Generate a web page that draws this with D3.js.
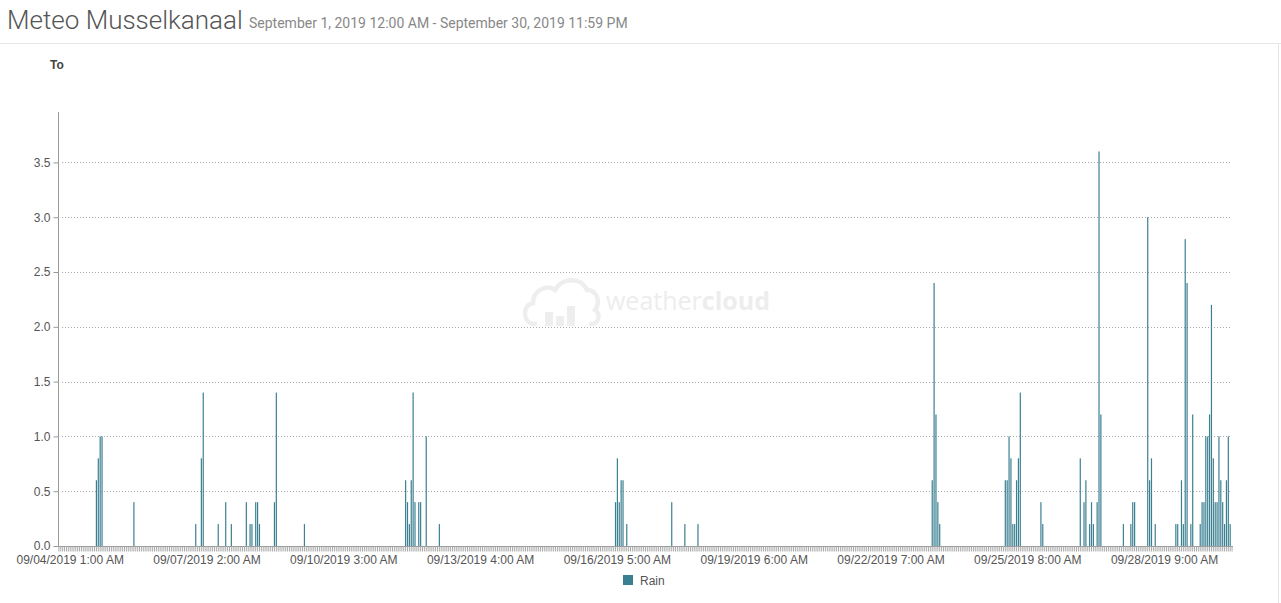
<!DOCTYPE html>
<html>
<head>
<meta charset="utf-8">
<script src="https://cdn.jsdelivr.net/npm/d3@7/dist/d3.min.js"></script>
<style>
  html, body { margin: 0; padding: 0; background: #fff; }
  svg { display: block; }
</style>
</head>
<body>
<svg id="chart" width="1281" height="603"></svg>
<script>
// ---------- data ----------
const titleText = "Meteo Musselkanaal";
const subtitleText = "September 1, 2019 12:00 AM - September 30, 2019 11:59 PM";
const yAxisTitle = "To";
const seriesName = "Rain";

// hourly categories (first and last hour shown on the axis)
const firstHour = "2019-09-03 19:00";
const lastHour = "2019-09-29 21:00";

// hours with rain (mm) and their values
const rainTimes = [
  "2019-09-04 15:00","2019-09-04 16:00","2019-09-04 17:00","2019-09-04 18:00","2019-09-05 11:00",
  "2019-09-06 20:00","2019-09-06 23:00","2019-09-07 00:00","2019-09-07 08:00","2019-09-07 12:00",
  "2019-09-07 15:00","2019-09-07 23:00","2019-09-08 01:00","2019-09-08 02:00","2019-09-08 04:00",
  "2019-09-08 05:00","2019-09-08 06:00","2019-09-08 14:00","2019-09-08 15:00","2019-09-09 06:00",
  "2019-09-11 12:00","2019-09-11 13:00","2019-09-11 14:00","2019-09-11 15:00","2019-09-11 16:00",
  "2019-09-11 17:00","2019-09-11 19:00","2019-09-11 20:00","2019-09-11 23:00","2019-09-12 06:00",
  "2019-09-16 04:00","2019-09-16 05:00","2019-09-16 06:00","2019-09-16 07:00","2019-09-16 08:00",
  "2019-09-16 10:00","2019-09-17 10:00","2019-09-17 17:00","2019-09-18 00:00",
  "2019-09-23 05:00","2019-09-23 06:00","2019-09-23 07:00","2019-09-23 08:00","2019-09-23 09:00",
  "2019-09-24 20:00","2019-09-24 21:00","2019-09-24 22:00","2019-09-24 23:00","2019-09-25 00:00",
  "2019-09-25 01:00","2019-09-25 02:00","2019-09-25 03:00","2019-09-25 04:00","2019-09-25 15:00",
  "2019-09-25 16:00",
  "2019-09-26 12:00","2019-09-26 14:00","2019-09-26 15:00","2019-09-26 17:00","2019-09-26 18:00",
  "2019-09-26 19:00","2019-09-26 21:00","2019-09-26 22:00","2019-09-26 23:00",
  "2019-09-27 11:00","2019-09-27 15:00","2019-09-27 16:00","2019-09-27 17:00",
  "2019-09-28 00:00","2019-09-28 01:00","2019-09-28 02:00","2019-09-28 04:00","2019-09-28 15:00",
  "2019-09-28 16:00","2019-09-28 18:00","2019-09-28 19:00","2019-09-28 20:00","2019-09-28 21:00",
  "2019-09-28 23:00","2019-09-29 00:00","2019-09-29 04:00","2019-09-29 05:00","2019-09-29 06:00",
  "2019-09-29 07:00","2019-09-29 08:00","2019-09-29 09:00","2019-09-29 10:00","2019-09-29 11:00",
  "2019-09-29 12:00","2019-09-29 13:00","2019-09-29 14:00","2019-09-29 15:00","2019-09-29 16:00",
  "2019-09-29 17:00","2019-09-29 18:00","2019-09-29 19:00","2019-09-29 20:00"
];
const rainValues = [
  0.6,0.8,1.0,1.0,0.4,
  0.2,0.8,1.4,0.2,0.4,
  0.2,0.4,0.2,0.2,0.4,
  0.4,0.2,0.4,1.4,0.2,
  0.6,0.4,0.2,0.6,1.4,
  0.4,0.4,0.4,1.0,0.2,
  0.4,0.8,0.4,0.6,0.6,
  0.2,0.4,0.2,0.2,
  0.6,2.4,1.2,0.4,0.2,
  0.6,0.6,1.0,0.8,0.2,
  0.2,0.6,0.8,1.4,0.4,
  0.2,
  0.8,0.4,0.6,0.2,0.4,
  0.2,0.4,3.6,1.2,
  0.2,0.2,0.4,0.4,
  3.0,0.6,0.8,0.2,0.2,
  0.2,0.6,0.2,2.8,2.4,
  0.2,1.2,0.2,0.4,0.4,
  1.0,1.0,1.2,2.2,0.8,
  0.4,0.4,1.0,0.6,0.4,
  0.2,0.6,1.0,0.2
];

const yTicks = [0, 0.5, 1.0, 1.5, 2.0, 2.5, 3.0, 3.5];
const yMax = 3.96;
const xTickLabels = [
  "09/04/2019 1:00 AM","09/07/2019 2:00 AM","09/10/2019 3:00 AM","09/13/2019 4:00 AM",
  "09/16/2019 5:00 AM","09/19/2019 6:00 AM","09/22/2019 7:00 AM","09/25/2019 8:00 AM",
  "09/28/2019 9:00 AM"
];

// ---------- drawing ----------
const parse = d3.timeParse("%Y-%m-%d %H:%M");
const keyFmt = d3.timeFormat("%Y-%m-%d %H:%M");
const labelFmt = d3.timeFormat("%m/%d/%Y %-I:%M %p");
const categories = d3.timeHour.range(parse(firstHour), d3.timeHour.offset(parse(lastHour), 1)).map(keyFmt);
const data = rainTimes.map((t, i) => ({ t, v: rainValues[i] }));

const svg = d3.select("#chart");
const W = 1281, H = 603;
const barColor = "#3b8092";

// header
svg.append("text").attr("x", 7).attr("y", 29)
  .attr("font-family", "Roboto").attr("font-weight", 300).attr("font-size", 26)
  .attr("fill", "#555").text(titleText);
svg.append("text").attr("x", 249).attr("y", 28)
  .attr("font-family", "Roboto").attr("font-size", 14)
  .attr("fill", "#888").text(subtitleText);
svg.append("line").attr("x1", 0).attr("x2", W).attr("y1", 43.5).attr("y2", 43.5)
  .attr("stroke", "#e6e6e6");
svg.append("line").attr("x1", W - 2.5).attr("x2", W - 2.5).attr("y1", 44).attr("y2", H)
  .attr("stroke", "#e6e6e6");

// watermark
const wm = svg.append("g").attr("transform", "translate(521,276)");
wm.append("path")
  .attr("d", "M14,48 C2,48 0,30 12,27 C12,14 26,8 34,14 C40,2 60,0 66,14 C76,14 80,26 74,34 C80,38 78,48 70,48")
  .attr("fill", "none").attr("stroke", "#eeeeee").attr("stroke-width", 4.5).attr("stroke-linecap", "round");
wm.append("rect").attr("x", 24).attr("y", 36).attr("width", 8).attr("height", 14).attr("fill", "#eeeeee");
wm.append("rect").attr("x", 35).attr("y", 40).attr("width", 8).attr("height", 10).attr("fill", "#eeeeee");
wm.append("rect").attr("x", 46).attr("y", 30).attr("width", 8).attr("height", 20).attr("fill", "#eeeeee");
const wmt = svg.append("text").attr("x", 606).attr("y", 310)
  .attr("font-family", "Open Sans").attr("font-size", 25).attr("fill", "#ededed");
wmt.append("tspan").attr("font-weight", 400).text("weather");
wmt.append("tspan").attr("font-weight", 700).text("cloud");

// scales
const x = d3.scaleBand().domain(categories).range([58, 1233]).padding(0);
const y = d3.scaleLinear().domain([0, yMax]).range([546, 112]);

// gridlines
svg.append("g").selectAll("line").data(yTicks.filter(d => d > 0)).join("line")
  .attr("x1", 62).attr("x2", 1230)
  .attr("y1", d => Math.round(y(d)) + 0.5).attr("y2", d => Math.round(y(d)) + 0.5)
  .attr("stroke", "#a8a8a8").attr("stroke-dasharray", "1,2");

// bars
svg.append("g").selectAll("rect").data(data).join("rect")
  .attr("x", d => x(d.t) + x.bandwidth() / 2 - 0.6)
  .attr("width", 1.2)
  .attr("y", d => y(d.v))
  .attr("height", d => y(0) - y(d.v))
  .attr("fill", barColor);

// y axis
const yAxis = d3.axisLeft(y).tickValues(yTicks).tickFormat(d3.format(".1f")).tickSize(5).tickPadding(3);
const gy = svg.append("g").attr("transform", "translate(58.5,0)").call(yAxis);
gy.select(".domain").attr("stroke", "#999").attr("d", `M0,${y(yMax)}V${y(0)}`);
gy.selectAll(".tick line").attr("stroke", "#999");
gy.selectAll(".tick text").attr("font-family", "Liberation Sans, Arial").attr("font-size", 12).attr("fill", "#555");

svg.append("text").attr("x", 50).attr("y", 69)
  .attr("font-family", "Liberation Sans, Arial").attr("font-weight", "bold").attr("font-size", 12)
  .attr("fill", "#444").text(yAxisTitle);

// x axis: a tick for each hour, labels every 73 hours
const labelIdx = xTickLabels.map(s => categories.indexOf(keyFmt(d3.timeParse("%m/%d/%Y %-I:%M %p")(s))));
const gx = svg.append("g").attr("transform", `translate(0,${y(0) + 0.5})`)
  .call(d3.axisBottom(x).tickValues(categories).tickSize(5).tickFormat(""));
gx.select(".domain").attr("stroke", "#999").attr("d", "M58,0H1233");
gx.selectAll(".tick line").attr("stroke", "#aaa");
gx.append("g").selectAll("text").data(labelIdx).join("text")
  .attr("x", i => x(categories[i]) + x.bandwidth() / 2)
  .attr("y", 17)
  .attr("text-anchor", "middle")
  .attr("font-family", "Liberation Sans, Arial").attr("font-size", 12).attr("fill", "#555")
  .text(i => labelFmt(parse(categories[i])));

// legend
const lg = svg.append("g").attr("transform", "translate(623,575)");
lg.append("rect").attr("width", 10).attr("height", 10).attr("fill", barColor);
lg.append("text").attr("x", 17).attr("y", 9.5)
  .attr("font-family", "Liberation Sans, Arial").attr("font-size", 12).attr("fill", "#555").text(seriesName);
</script>
</body>
</html>
